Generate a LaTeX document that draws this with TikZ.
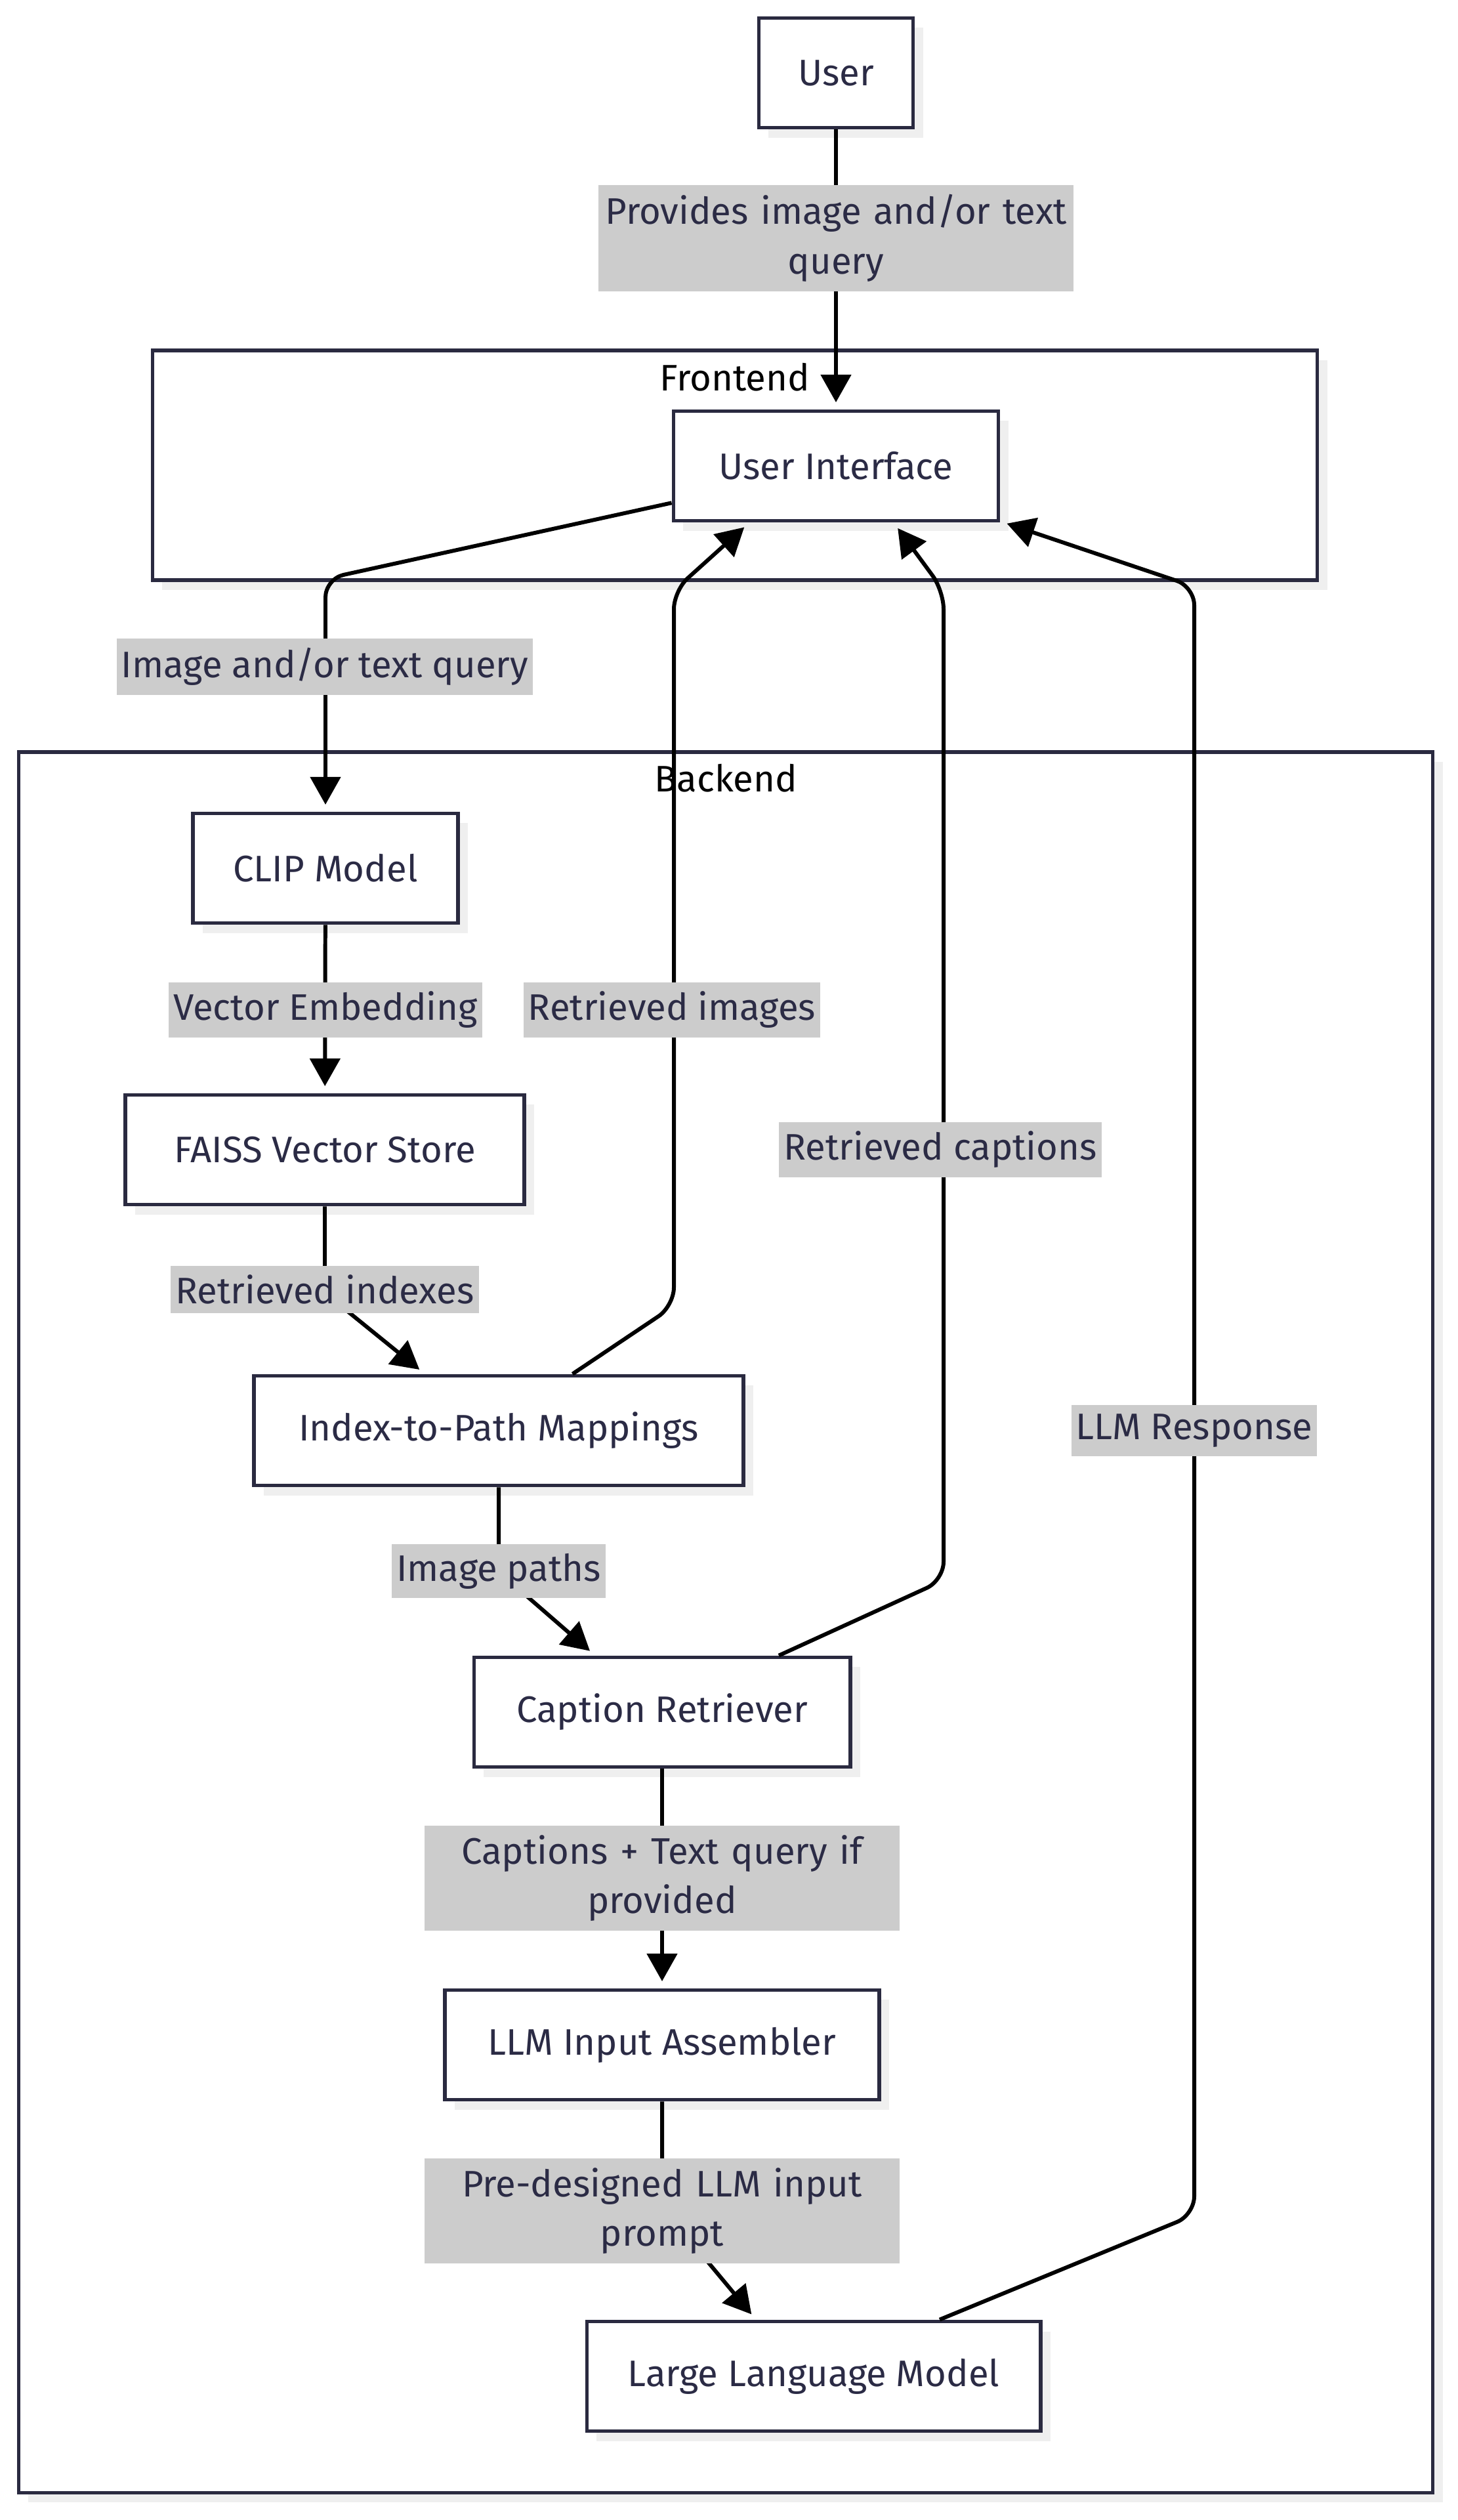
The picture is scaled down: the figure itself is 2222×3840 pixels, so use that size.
\documentclass[tikz,border=0pt]{standalone}
\usepackage{fontspec}
\setmainfont{Fira Sans}
\usetikzlibrary{arrows.meta,calc}
\definecolor{nink}{HTML}{2B2B45}
\definecolor{nborder}{HTML}{2A2A40}
\definecolor{nlabel}{HTML}{CCCCCC}
\definecolor{nshade}{HTML}{EFEFEF}
\newcommand{\dfont}{\fontsize{16}{21.6}\selectfont}
\tikzset{
  shade box/.style={preaction={fill=nshade, transform canvas={shift={(0.15cm,-0.15cm)}}}},
  box/.style={draw=nborder, line width=1.6pt, fill=white, shade box, minimum height=1.67cm, text=nink, font=\dfont},
  cluster/.style={draw=nborder, line width=1.6pt, fill=white, shade box},
  clusterlbl/.style={anchor=north, text=black, inner sep=2pt, font=\dfont},
  lbl/.style={fill=nlabel, text=nink, inner xsep=2pt, inner ysep=4pt, font=\dfont},
  lbltwo/.style={lbl, text width=202pt, align=center},
  flow/.style={draw=black, line width=1.7pt, rounded corners=8pt, -{Triangle[length=12pt,width=13pt]}, shorten >=3pt},
}
\begin{document}
\begin{tikzpicture}[x=0.01cm, y=-0.01cm]
 \fill[white] (0,0) rectangle (2222,3840);
 \useasboundingbox (0,0) rectangle (2222,3840);
 % subgraphs
 \node[cluster, minimum width=17.74cm, minimum height=3.5cm] (frontend) at (1120,709) {};
 \node[cluster, minimum width=21.54cm, minimum height=26.51cm] (backend) at (1106,2472) {};
 \node[clusterlbl] (frontend-lbl) at ([yshift=-4pt]frontend.north) {Frontend};
 \node[clusterlbl] (backend-lbl) at ([yshift=-4pt]backend.north) {Backend};
 % components
 \node[box, minimum width=2.35cm] (user) at (1274,111) {User};
 \node[box, minimum width=4.95cm] (ui) at (1274,710) {User Interface};
 \node[box, minimum width=4.04cm] (clip) at (496,1323) {CLIP Model};
 \node[box, minimum width=6.08cm] (faiss) at (495,1752) {FAISS Vector Store};
 \node[box, minimum width=7.45cm] (idx) at (760,2180) {Index-to-Path Mappings};
 \node[box, minimum width=5.73cm] (cr) at (1009,2609) {Caption Retriever};
 \node[box, minimum width=6.62cm] (asm) at (1009,3116) {LLM Input Assembler};
 \node[box, minimum width=6.91cm] (llm) at (1240,3621) {Large Language Model};
 % data flow
 \draw[flow] (user) -- (ui);
 \draw[flow] ([yshift=-16pt]ui.west) -- (496,882) -- (clip);
 \draw[flow] (clip) -- (faiss);
 \draw[flow] (faiss) -- (495,1970) -- ([xshift=-32pt]idx.north);
 \draw[flow] ([xshift=32pt]idx.north) -- (1027,1990) -- (1027,900) -- ([xshift=-37.5pt]ui.south);
 \draw[flow] (idx) -- (760,2395) -- ([xshift=-29pt]cr.north);
 \draw[flow] ([xshift=50.6pt]cr.north) -- (1438,2408) -- (1438,900) -- ([xshift=25pt]ui.south);
 \draw[flow] (cr) -- (asm);
 \draw[flow] (asm) -- (1009,3363) -- ([xshift=-25pt]llm.north);
 \draw[flow] ([xshift=54.6pt]llm.north) -- (1820,3375) -- (1820,894) -- ([yshift=-24pt]ui.east);
 % edge labels
 \node[lbltwo] (l-prov) at (1274,363) {Provides image and/or text\\query};
 \node[lbl] (l-imgq) at (495,1016) {Image and/or text query};
 \node[lbl] (l-vemb) at (496,1539) {Vector Embedding};
 \node[lbl] (l-rimg) at (1024,1539) {Retrieved images};
 \node[lbl] (l-rcap) at (1433,1752) {Retrieved captions};
 \node[lbl] (l-ridx) at (495,1965) {Retrieved indexes};
 \node[lbl] (l-llmr) at (1820,2180) {LLM Response};
 \node[lbl] (l-ipath) at (760,2394) {Image paths};
 \node[lbltwo] (l-capq) at (1009,2862) {Captions + Text query if\\provided};
 \node[lbltwo] (l-prompt) at (1009,3369) {Pre-designed LLM input\\prompt};
\end{tikzpicture}
\end{document}
